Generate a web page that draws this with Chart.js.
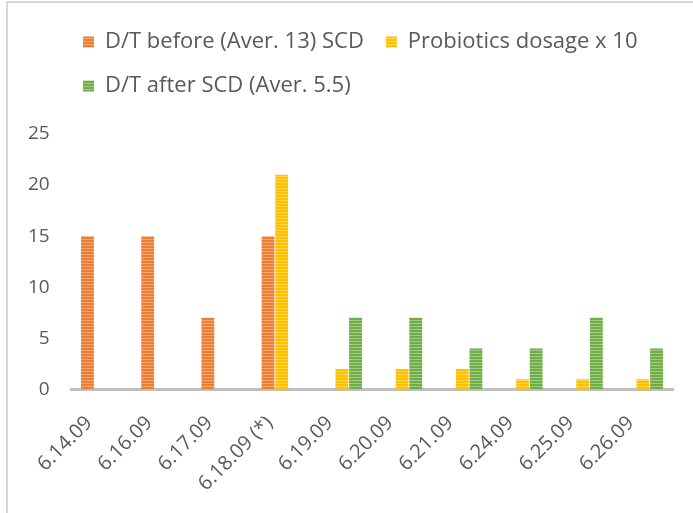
<!DOCTYPE html>
<html>
<head>
<meta charset="utf-8">
<script src="https://cdn.jsdelivr.net/npm/chart.js@4/dist/chart.umd.min.js"></script>
<style>
  html, body { margin: 0; padding: 0; background: #fff; }
  #wrap { width: 693px; height: 513px; position: relative; }
</style>
</head>
<body>
<div id="wrap"><canvas id="scdChart" width="693" height="513"></canvas></div>
<script>
// data
const dates = ["6.14.09", "6.16.09", "6.17.09", "6.18.09 (*)", "6.19.09",
               "6.20.09", "6.21.09", "6.24.09", "6.25.09", "6.26.09"];
const before = [15, 15, 7, 15, null, null, null, null, null, null];
const probiotics = [null, null, null, 21, 2, 2, 2, 1, 1, 1];
const after = [null, null, null, null, 7, 7, 4, 4, 7, 4];
const yStep = 5;
const yMax = 25;

// horizontal stripe fill like the excel pattern
function stripes(color, light) {
    var c = document.createElement('canvas');
    c.width = 4;
    c.height = 3;
    var x = c.getContext('2d');
    x.fillStyle = color;
    x.fillRect(0, 0, 4, 3);
    x.fillStyle = light;
    x.fillRect(0, 2, 4, 1);
    return x.createPattern(c, 'repeat');
}

var ctx = document.getElementById('scdChart').getContext('2d');

// light grey chart border (only top and left are in the picture)
var frame = {
    id: 'frame',
    beforeDraw(chart) {
        var c = chart.ctx;
        c.save();
        c.strokeStyle = '#d9d9d9';
        c.lineWidth = 2;
        c.beginPath();
        c.moveTo(7, 513);
        c.lineTo(7, 2);
        c.lineTo(693, 2);
        c.stroke();
        c.restore();
    }
};

var legendFont = {family: 'Open Sans', size: 22};
var tickFont = {family: 'Open Sans', size: 19};

var chart = new Chart(ctx, {
    type: 'bar',
    data: {
        labels: dates,
        datasets: [
            {
                label: "D/T before (Aver. 13) SCD",
                data: before,
                backgroundColor: stripes('#ed7d31', '#f4a878')
            },
            {
                label: "Probiotics dosage x 10",
                data: probiotics,
                backgroundColor: stripes('#ffc000', '#ffd54f')
            },
            {
                label: "D/T after SCD (Aver. 5.5)",
                data: after,
                backgroundColor: stripes('#70ad47', '#a3cb88')
            }
        ]
    },
    options: {
        responsive: false,
        animation: false,
        layout: {
            padding: {left: 61, top: 9, right: 20, bottom: 0}
        },
        datasets: {
            bar: {
                categoryPercentage: 0.68,
                barPercentage: 0.94,
                skipNull: false
            }
        },
        plugins: {
            legend: {
                position: 'top',
                align: 'start',
                labels: {
                    boxWidth: 11,
                    boxHeight: 11,
                    padding: 22,
                    color: '#595959',
                    font: legendFont
                }
            },
            // empty title used only as a gap under the legend
            title: {
                display: true,
                text: '',
                weight: 500,
                font: {size: 10, lineHeight: 1},
                padding: {top: 0, bottom: 17}
            },
            tooltip: {enabled: false}
        },
        scales: {
            x: {
                afterFit: function (scale) {
                    scale.height = scale.height - 5;
                },
                grid: {display: false, drawTicks: false},
                border: {color: '#bfbfbf', width: 3},
                ticks: {
                    color: '#595959',
                    font: {family: 'Open Sans', size: 20},
                    maxRotation: 45,
                    minRotation: 45,
                    labelOffset: -12,
                    padding: 22
                }
            },
            y: {
                min: 0,
                max: yMax,
                afterFit: function (scale) {
                    scale.width = 10;
                },
                grid: {display: false, drawTicks: false},
                border: {display: false},
                ticks: {
                    stepSize: yStep,
                    color: '#595959',
                    font: tickFont,
                    mirror: true,
                    crossAlign: 'far',
                    padding: -43
                }
            }
        }
    },
    plugins: [frame]
});
</script>
</body>
</html>
